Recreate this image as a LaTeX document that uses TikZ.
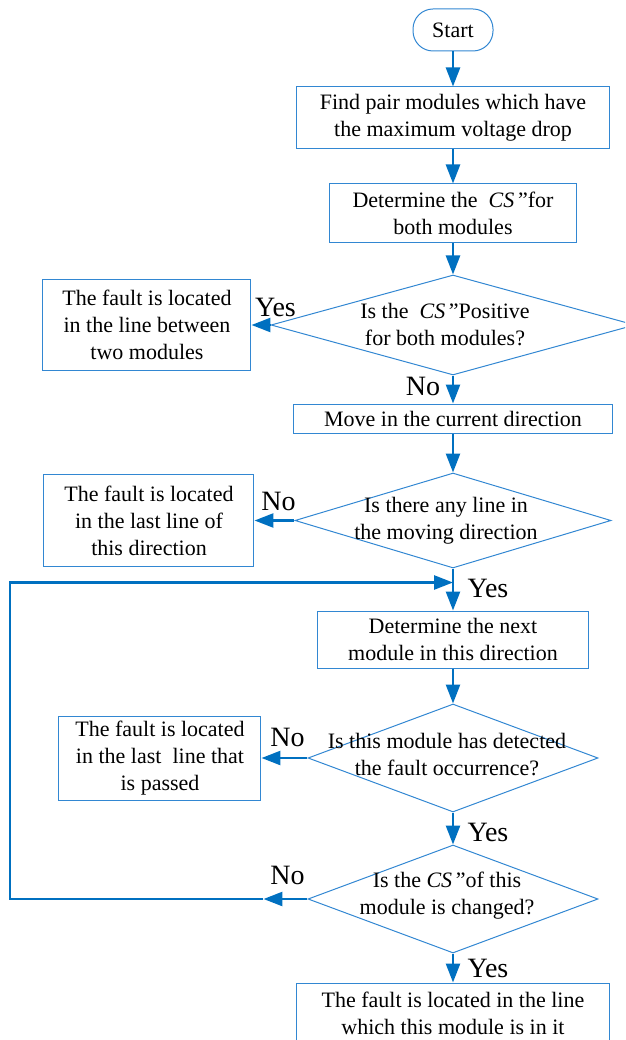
\documentclass[tikz,border=0pt]{standalone}
\usepackage{fontspec}
\setmainfont{Liberation Serif}
\usepackage{tikz}
\usetikzlibrary{positioning, arrows.meta, shapes.geometric}
\definecolor{flowblue}{RGB}{0, 112, 192}
\definecolor{edgeblue}{RGB}{50, 135, 210}

\begin{document}
\begin{tikzpicture}[
    stepbox/.style={draw=edgeblue, line width=1pt, align=center, inner sep=2pt, font=\fontsize{22pt}{27pt}\selectfont},
    startbox/.style={stepbox, rounded corners=20pt, minimum width=80pt, minimum height=42pt},
    decision/.style={diamond, draw=edgeblue, line width=1pt, inner sep=0pt},
    dtext/.style={align=center, inner sep=0pt, font=\fontsize{22pt}{27pt}\selectfont},
    lbl/.style={inner sep=0pt, font=\fontsize{28pt}{32pt}\selectfont},
    arrow/.style={-{Triangle[length=19pt, width=14pt]}, line width=2.6pt, flowblue}
]
    \useasboundingbox (-453pt,30pt) rectangle (172pt,-1010pt);
    \clip (-453pt,30pt) rectangle (172pt,-1010pt);

    % Nodes
    \node (start) [startbox] {Start};
    \node (find) [stepbox, minimum width=312pt, minimum height=62pt, below=35pt of start] {Find pair modules which have\\ the maximum voltage drop};
    \node (cs) [stepbox, minimum width=247pt, minimum height=59pt, below=34pt of find] {Determine the \ \textit{CS}\,''for\\ both modules};
    \node (q1) [decision, minimum width=364pt, minimum height=100pt, below=31pt of cs] {};
    \node (q1txt) [dtext] at ([xshift=-8pt]q1) {Is the \ \textit{CS}\,''Positive\\ for both modules?};
    \node (loc1) [stepbox, minimum width=208pt, minimum height=90pt, left=19pt of q1] {The fault is located\\ in the line between\\ two modules};
    \node (move) [stepbox, minimum width=318pt, minimum height=29pt, below=28pt of q1] {Move in the current direction};
    \node (q2) [decision, minimum width=316pt, minimum height=95pt, below=39pt of move] {};
    \node (q2txt) [dtext] at ([xshift=-7pt]q2) {Is there any line in\\ the moving direction};
    \node (loc2) [stepbox, minimum width=210pt, minimum height=92pt, left=40pt of q2] {The fault is located\\ in the last line of\\ this direction};
    \node (next) [stepbox, minimum width=271pt, minimum height=57pt, below=42pt of q2] {Determine the next\\ module in this direction};
    \node (q3) [decision, minimum width=290pt, minimum height=108pt, below=35pt of next] {};
    \node (q3txt) [dtext] at ([xshift=-6pt, yshift=3pt]q3) {Is this module has detected\\ the fault occurrence?};
    \node (loc3) [stepbox, minimum width=202pt, minimum height=84pt, left=46pt of q3] {The fault is located\\ in the last \ line that\\ is passed};
    \node (q4) [decision, minimum width=290pt, minimum height=108pt, below=32pt of q3] {};
    \node (q4txt) [dtext] at ([xshift=-6pt, yshift=3pt]q4) {Is the \textit{CS}\,''of this\\ module is changed?};
    \node (found) [stepbox, minimum width=313pt, minimum height=60pt, below=29pt of q4] {The fault is located in the line\\ which this module is in it};

    % Labels
    \node (yes1) [lbl] at ([xshift=5pt, yshift=18pt]q1.west) {Yes};
    \node (no1) [lbl] at ([xshift=-30pt, yshift=-11pt]q1.south) {No};
    \node (no2) [lbl] at ([xshift=-16pt, yshift=19pt]q2.west) {No};
    \node (yes2) [lbl] at ([xshift=35pt, yshift=-20pt]q2.south) {Yes};
    \node (no3) [lbl] at ([xshift=-20pt, yshift=21pt]q3.west) {No};
    \node (yes3) [lbl] at ([xshift=35pt, yshift=-20pt]q3.south) {Yes};
    \node (no4) [lbl] at ([xshift=-20pt, yshift=24pt]q4.west) {No};
    \node (yes4) [lbl] at ([xshift=35pt, yshift=-15pt]q4.south) {Yes};

    % Arrows
    \draw [arrow] (start) -- (find);
    \draw [arrow] (find) -- (cs);
    \draw [arrow] (cs) -- (q1);
    \draw [arrow] (q1.west) -- (loc1.east);
    \draw [arrow] (q1) -- (move);
    \draw [arrow] (move) -- (q2);
    \draw [arrow] (q2.west) -- (loc2.east);
    \draw [arrow] (q2) -- (next);
    \draw [arrow] (next) -- (q3);
    \draw [arrow] (q3.west) -- (loc3.east);
    \draw [arrow] (q3) -- (q4);
    \draw [arrow] (q4) -- (found);

    % Loop back
    \coordinate (back) at ([xshift=-44pt]q4.west);
    \coordinate (loopy) at ([yshift=-14pt]q2.south);
    \coordinate (loopx) at (-443pt,0);
    \draw [arrow] (q4.west) -- (back);
    \draw [arrow] (back) -- (back -| loopx) -- (loopx |- loopy) -- (loopy);
\end{tikzpicture}
\end{document}
